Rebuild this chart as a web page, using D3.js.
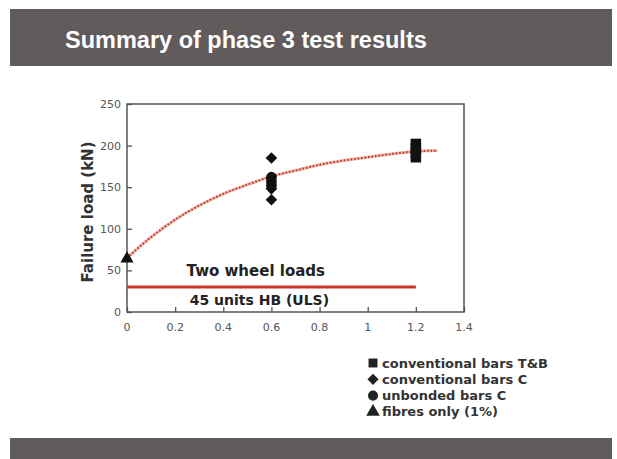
<!DOCTYPE html>
<html>
<head>
<meta charset="utf-8">
<script src="https://cdn.jsdelivr.net/npm/d3@7"></script>
<style>
  body { margin: 0; background: #fff; }
  svg { display: block; font-family: "DejaVu Sans", sans-serif; }
</style>
</head>
<body>
<div id="chart"></div>
<script>
const width = 617;
const height = 459;

// data
const xTicks = [0, 0.2, 0.4, 0.6, 0.8, 1, 1.2, 1.4];
const yTicks = [0, 50, 100, 150, 200, 250];
const squaresX = [1.2, 1.2, 1.2, 1.2];
const squaresY = [202, 197, 191, 186];
const diamondsX = [0.6, 0.6, 0.6];
const diamondsY = [185, 148, 135];
const circlesX = [0.6, 0.6, 0.6];
const circlesY = [162, 157, 152];
const trianglesX = [0];
const trianglesY = [64];
const fitX = [0, 0.1, 0.2, 0.3, 0.4, 0.5, 0.6, 0.7, 0.8, 0.9, 1.0, 1.1, 1.2, 1.29];
const fitY = [65, 90, 111, 128, 142, 153, 163, 170, 177, 182, 186, 190, 193, 194];
const limitX = [0, 1.2];
const limitY = [30, 30];
const legendLabels = ["conventional bars T&B", "conventional bars C", "unbonded bars C", "fibres only (1%)"];

const svg = d3.select("#chart")
    .append("svg")
    .attr("width", width)
    .attr("height", height);

// title bar
svg.append("rect")
    .attr("x", 10).attr("y", 9)
    .attr("width", 602).attr("height", 57)
    .attr("fill", "#625b5b");
svg.append("text")
    .attr("x", 65).attr("y", 48)
    .attr("fill", "#fff")
    .attr("font-family", "'Liberation Sans', Arial, sans-serif")
    .attr("font-size", 23.5)
    .attr("font-weight", "bold")
    .text("Summary of phase 3 test results");

// bottom bar
svg.append("rect")
    .attr("x", 10).attr("y", 438)
    .attr("width", 602).attr("height", 21)
    .attr("fill", "#625b5b");

const x = d3.scaleLinear().domain([0, 1.4]).range([127, 464]);
const y = d3.scaleLinear().domain([0, 250]).range([312, 104]);

const axisColor = "#555";

// plot box
svg.append("rect")
    .attr("x", x(0)).attr("y", y(250))
    .attr("width", x(1.4) - x(0)).attr("height", y(0) - y(250))
    .attr("fill", "none")
    .attr("stroke", axisColor)
    .attr("stroke-width", 1.5);

// axes with inward ticks
const yAxis = svg.append("g")
    .attr("transform", `translate(${x(0)},0)`)
    .call(d3.axisRight(y).tickValues(yTicks).tickSize(5).tickFormat(""));
const xAxis = svg.append("g")
    .attr("transform", `translate(0,${y(0)})`)
    .call(d3.axisTop(x).tickValues(xTicks).tickSize(5).tickFormat(""));
[xAxis, yAxis].forEach(g => {
    g.select(".domain").remove();
    g.selectAll("line").attr("stroke", axisColor).attr("stroke-width", 1.3);
});

svg.selectAll(".ylab")
    .data(yTicks)
    .join("text")
    .attr("class", "ylab")
    .attr("x", x(0) - 6)
    .attr("y", d => y(d) + 4)
    .attr("text-anchor", "end")
    .attr("font-size", 11)
    .attr("fill", "#555")
    .text(d => d);

svg.selectAll(".xlab")
    .data(xTicks)
    .join("text")
    .attr("class", "xlab")
    .attr("x", d => x(d))
    .attr("y", y(0) + 19)
    .attr("text-anchor", "middle")
    .attr("font-size", 11)
    .attr("fill", "#555")
    .text(d => d);

svg.append("text")
    .attr("transform", `translate(93,${(y(0) + y(250)) / 2 + 4}) rotate(-90)`)
    .attr("text-anchor", "middle")
    .attr("font-size", 15)
    .attr("font-weight", "bold")
    .attr("fill", "#333")
    .text("Failure load (kN)");

// limit line
const line = d3.line().x(d => x(d[0])).y(d => y(d[1]));
svg.append("path")
    .attr("d", line(d3.zip(limitX, limitY)))
    .attr("stroke", "#c8352a")
    .attr("stroke-width", 3)
    .attr("fill", "none");

svg.append("text")
    .attr("x", x(0.535)).attr("y", y(30) - 11)
    .attr("text-anchor", "middle")
    .attr("font-size", 15)
    .attr("font-weight", "bold")
    .attr("fill", "#222")
    .text("Two wheel loads");
svg.append("text")
    .attr("x", x(0.55)).attr("y", y(30) + 18)
    .attr("text-anchor", "middle")
    .attr("font-size", 14)
    .attr("font-weight", "bold")
    .attr("fill", "#222")
    .text("45 units HB (ULS)");

// fit curve
const fitLine = d3.line().curve(d3.curveMonotoneX).x(d => x(d[0])).y(d => y(d[1]));
svg.append("path")
    .attr("d", fitLine(d3.zip(fitX, fitY)))
    .attr("stroke", "#f2b3a6")
    .attr("stroke-width", 3)
    .attr("fill", "none");
svg.append("path")
    .attr("d", fitLine(d3.zip(fitX, fitY)))
    .attr("stroke", "#b8372a")
    .attr("stroke-width", 2)
    .attr("stroke-dasharray", "1.5,2")
    .attr("fill", "none");

// markers
const symbols = [d3.symbolSquare, d3.symbolDiamond2, d3.symbolCircle, d3.symbolTriangle];
const sizes = [110, 85, 90, 75];
const seriesX = [squaresX, diamondsX, circlesX, trianglesX];
const seriesY = [squaresY, diamondsY, circlesY, trianglesY];

seriesX.forEach((xs, i) => {
    svg.selectAll(".m" + i)
        .data(d3.zip(xs, seriesY[i]))
        .join("path")
        .attr("class", "m" + i)
        .attr("transform", d => `translate(${x(d[0])},${y(d[1])})`)
        .attr("d", d3.symbol(symbols[i], sizes[i]))
        .attr("fill", "#111");
});

// legend
const legend = svg.append("g").attr("transform", "translate(373,363)");
legendLabels.forEach((label, i) => {
    legend.append("path")
        .attr("transform", `translate(0,${i * 16.3})`)
        .attr("d", d3.symbol(symbols[i], 80))
        .attr("fill", "#222");
    legend.append("text")
        .attr("x", 9)
        .attr("y", i * 16.3 + 4.5)
        .attr("font-size", 13)
        .attr("font-weight", "bold")
        .attr("fill", "#333")
        .text(label);
});
</script>
</body>
</html>
